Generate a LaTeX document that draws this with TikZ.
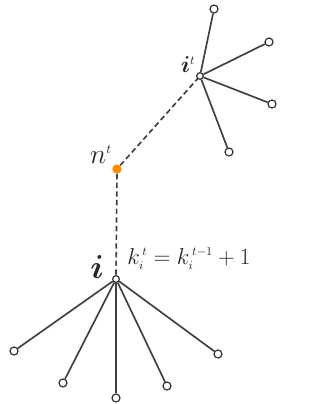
\documentclass[tikz,border=0pt]{standalone}
\usepackage{amsmath,bm}
\usepackage{tikz}
\begin{document}
\begin{tikzpicture}[x=0.75pt,y=-0.75pt,
  leaf/.style={circle,draw=black!80,fill=white,line width=0.9pt,inner sep=0pt,minimum size=6pt},
  hub/.style={circle,draw=black!80,fill=white,line width=0.9pt,inner sep=0pt,minimum size=5pt},
  edge/.style={draw=black!75,line width=1.25pt},
  dashedge/.style={draw=black!75,line width=1.25pt,dash pattern=on 4pt off 2.5pt},
  lbl/.style={inner sep=0pt,text=black!85}]
\useasboundingbox (0,0) rectangle (321,404);
\fill[white] (0,0) rectangle (321,404);
% nodes
\node[hub] (ip) at (200,76) {};
\node[leaf] (a1) at (214,9) {};
\node[leaf] (a2) at (269,42) {};
\node[leaf] (a3) at (272,104) {};
\node[leaf] (a4) at (229,152) {};
\node[circle,fill=orange!90!yellow,inner sep=0pt,minimum size=7pt] (n) at (117,169) {};
\node[hub] (i) at (116,279) {};
\node[leaf] (b1) at (14,351) {};
\node[leaf] (b2) at (63,383) {};
\node[leaf] (b3) at (116,398) {};
\node[leaf] (b4) at (167,386) {};
\node[leaf] (b5) at (218,354) {};
% edges
\foreach \t in {a1,a2,a3,a4} \draw[edge] (ip) -- (\t);
\foreach \t in {b1,b2,b3,b4,b5} \draw[edge] (i) -- (\t);
\draw[dashedge] (n) -- (ip);
\draw[dashedge] (n) -- (i);
% labels
\node[lbl,font=\fontsize{18}{22}\selectfont] (lip) at (188,65) {$\bm{i}^{\scriptscriptstyle t}$};
\node[lbl,font=\fontsize{20}{24}\selectfont] (ln) at (101,154) {$n^{\scriptscriptstyle t}$};
\node[lbl,font=\fontsize{24}{28}\selectfont] (li) at (97,267) {$\bm{i}$};
\node[lbl,font=\fontsize{18.5}{22}\selectfont,anchor=west] (eq) at (127,259) {$k_{\scriptscriptstyle i}^{\,\scriptscriptstyle t}=k_{\scriptscriptstyle i}^{\,\scriptscriptstyle t-1}+1$};
\end{tikzpicture}
\end{document}
